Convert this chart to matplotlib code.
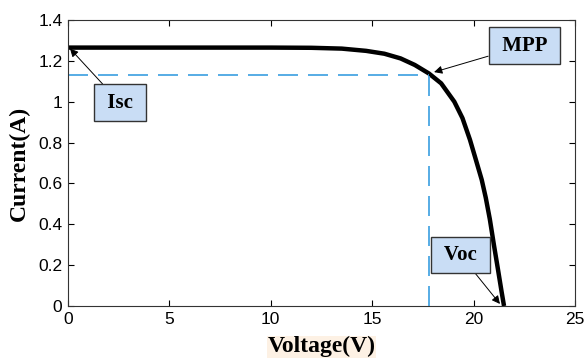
import matplotlib
matplotlib.use("Agg")
import matplotlib.pyplot as plt

# I-V curve
voltage = [0, 5, 10, 12, 13.5, 14.7, 15.6, 16.4, 17.1, 17.8, 18.4, 19.05, 19.45,
           19.82, 20.1, 20.4, 20.6, 20.8, 21.0, 21.2, 21.38, 21.5]
current = [1.265, 1.265, 1.265, 1.264, 1.26, 1.249, 1.235, 1.212, 1.18, 1.138, 1.09, 1.0, 0.92,
           0.814, 0.72, 0.618, 0.53, 0.425, 0.3, 0.18, 0.07, 0.0]

v_mpp = 17.8
i_mpp = 1.13
isc_point = (0.1, 1.26)
mpp_point = (18.05, 1.145)
voc_point = (21.3, 0.01)

fig = plt.figure(figsize=(5.84, 3.6), dpi=100)
ax = fig.add_axes([0.1164, 0.15, 0.8682, 0.7944])

ax.plot(voltage, current, color="black", linewidth=3.2, solid_capstyle="butt")

# MPP guide lines
dash_color = "#3a9ee0"
ax.plot([0, v_mpp], [i_mpp, i_mpp], color=dash_color, linewidth=1.2, dashes=(12, 6))
ax.plot([v_mpp, v_mpp], [0, i_mpp], color=dash_color, linewidth=1.2, dashes=(12, 6))

ax.set_xlim(0, 25)
ax.set_ylim(0, 1.4)
ax.set_xticks([0, 5, 10, 15, 20, 25])
ax.set_yticks([0, 0.2, 0.4, 0.6, 0.8, 1, 1.2, 1.4])
ax.set_yticklabels(["0", "0.2", "0.4", "0.6", "0.8", "1", "1.2", "1.4"])
ax.tick_params(axis="both", direction="in", top=True, right=True, length=4,
               width=0.8, labelsize=12.5, pad=4)
for lab in ax.get_xticklabels() + ax.get_yticklabels():
    lab.set_family("Liberation Sans")
for sp in ax.spines.values():
    sp.set_linewidth(0.8)
    sp.set_color("#333333")

label_font = dict(family="Liberation Serif", weight="bold", size=17)
ax.set_xlabel("Voltage(V)", fontdict=label_font, labelpad=7,
              bbox=dict(facecolor="#fdf1e4", edgecolor="none", pad=0.5))
ax.set_ylabel("Current(A)", fontdict=label_font, labelpad=6)

box = dict(boxstyle="square,pad=0.4", facecolor="#c9ddf5", edgecolor="#333333", linewidth=1.0)
arrow = dict(arrowstyle="-|>", color="black", lw=0.7, mutation_scale=12, shrinkA=0, shrinkB=0)
ann_font = dict(family="Liberation Serif", weight="bold", size=15)

ax.annotate(" Isc ", xy=isc_point, xytext=(2.56, 0.995), ha="center", va="center",
            bbox=box, arrowprops=arrow, **ann_font)
ax.annotate(" MPP ", xy=mpp_point, xytext=(22.5, 1.275), ha="center", va="center",
            bbox=box, arrowprops=arrow, **ann_font)
ax.annotate(" Voc ", xy=voc_point, xytext=(19.35, 0.25), ha="center", va="center",
            bbox=box, arrowprops=arrow, **ann_font)

fig.savefig("out.png", dpi=100)
